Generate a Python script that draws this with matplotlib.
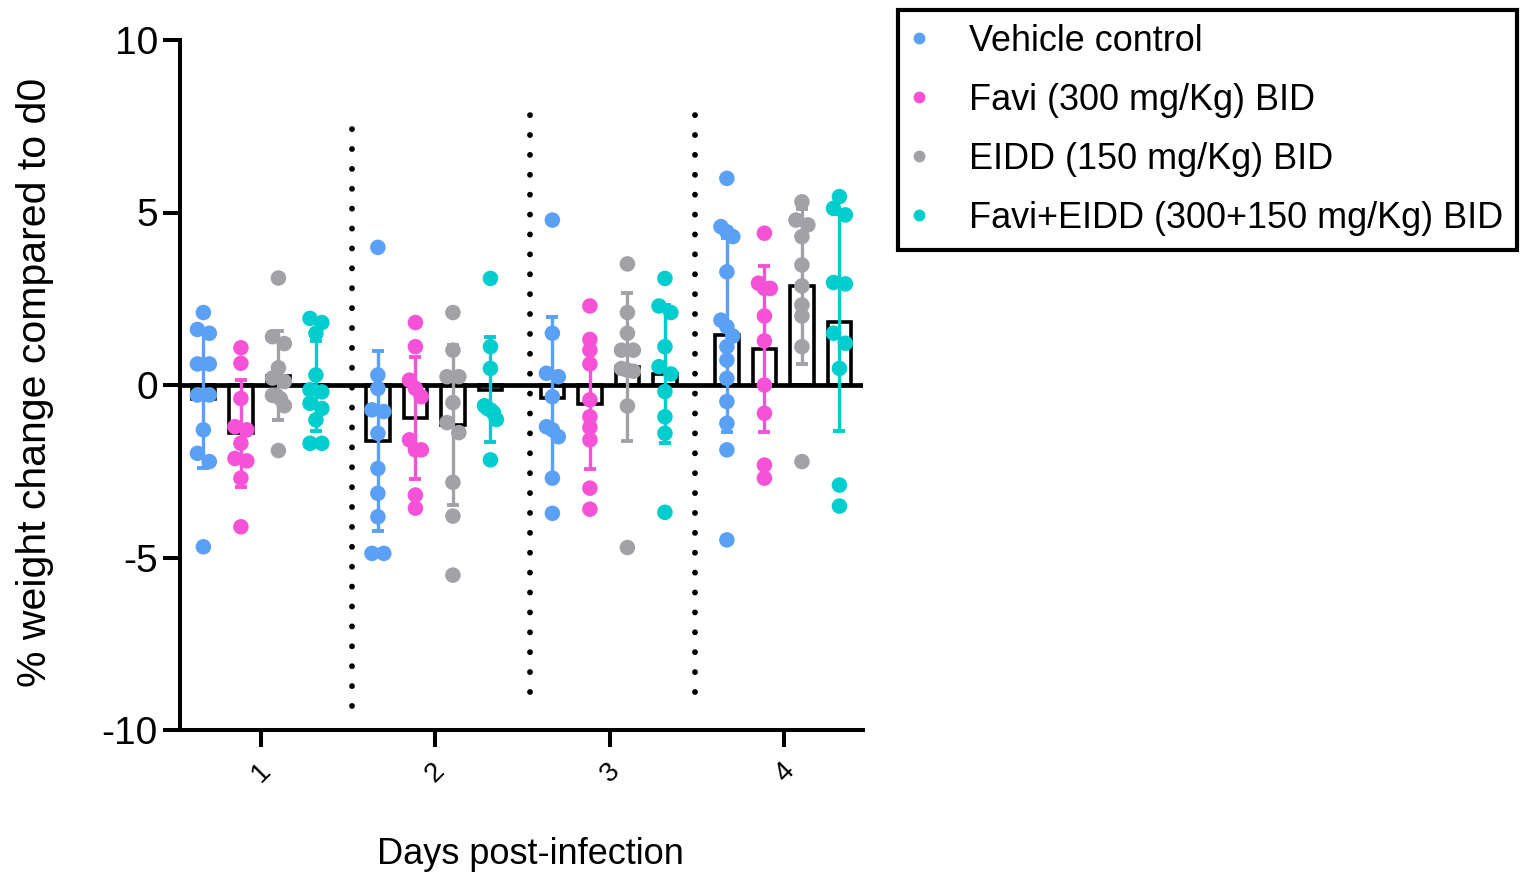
import numpy as np
import matplotlib.pyplot as plt
from matplotlib.lines import Line2D

plt.rcParams['font.family'] = ['Liberation Sans', 'DejaVu Sans']

# Data (% weight change vs d0, one value per animal)
days = [1, 2, 3, 4]
day_labels = ['1', '2', '3', '4']
groups = ['Vehicle control', 'Favi (300 mg/Kg) BID', 'EIDD (150 mg/Kg) BID',
          'Favi+EIDD (300+150 mg/Kg) BID']
colors = ['#5aa0f5', '#f552d8', '#a1a1a6', '#00cdcd']

vehicle = [
    [2.1, 1.61, 1.5, 0.61, 0.61, -0.29, -0.29, -1.3, -1.98, -2.22, -4.69],
    [3.99, 0.29, -0.1, -0.72, -0.77, -1.4, -2.42, -3.14, -3.82, -4.88, -4.88],
    [4.78, 1.5, 0.34, 0.24, -0.34, -1.21, -1.3, -1.5, -2.7, -3.72],
    [5.99, 4.59, 4.44, 4.3, 3.28, 1.88, 1.69, 1.42, 1.11, 0.72, 0.19, -0.48, -1.11, -1.88, -4.49],
]
favi = [
    [1.08, 0.63, -0.39, -1.21, -1.3, -1.69, -2.13, -2.2, -2.7, -4.11],
    [1.81, 1.11, 0.14, -0.1, -0.34, -1.59, -1.88, -1.88, -3.19, -3.57],
    [2.29, 1.32, 1.01, 0.61, -0.43, -0.92, -1.23, -1.59, -2.99, -3.6],
    [4.4, 2.95, 2.8, 2.8, 2.0, 1.28, 0.0, -0.82, -2.32, -2.7],
]
eidd = [
    [3.1, 1.4, 1.2, 0.5, 0.2, 0.1, -0.3, -0.3, -0.4, -0.6, -1.9],
    [2.1, 1.01, 0.24, 0.24, -0.51, -1.09, -1.38, -2.82, -3.8, -5.51],
    [3.51, 2.1, 1.5, 1.01, 1.01, 0.48, 0.43, 0.4, -0.61, -4.71],
    [5.31, 4.78, 4.64, 4.3, 3.48, 2.87, 2.32, 2.0, 1.11, -2.22],
]
combo = [
    [1.93, 1.81, 1.5, 0.29, -0.14, -0.2, -0.53, -0.68, -1.01, -1.69, -1.69],
    [3.09, 1.11, 0.48, -0.6, -0.68, -0.72, -0.8, -1.0, -2.17],
    [3.09, 2.29, 2.1, 1.11, 0.53, 0.32, -0.19, -0.92, -1.4, -3.69],
    [5.46, 5.12, 4.93, 2.97, 2.93, 1.5, 1.21, 0.48, -2.9, -3.51],
]
all_groups = [vehicle, favi, eidd, combo]

# dotted separators between days
divider_x = [1.52, 2.54, 3.49]
divider_top = [7.5, 7.9, 7.9]
divider_bottom = [-9.3, -8.9, -8.9]

offsets = [-0.33, -0.115, 0.10, 0.315]
bar_w = 0.135


def swarm(vals, d=0.034, gap=0.3):
    # spread points that sit at nearly the same height
    vals = np.asarray(vals, dtype=float)
    order = np.argsort(-vals)
    xoff = np.zeros(len(vals))
    cluster = [order[0]]
    for i in order[1:]:
        if vals[cluster[-1]] - vals[i] < gap:
            cluster.append(i)
        else:
            if len(cluster) > 1:
                xoff[cluster] = np.linspace(-d, d, len(cluster))
            cluster = [i]
    if len(cluster) > 1:
        xoff[cluster] = np.linspace(-d, d, len(cluster))
    return xoff


fig = plt.figure(figsize=(15.21, 8.77), dpi=100)
ax = fig.add_axes([180 / 1521, 1 - 730 / 877, 683 / 1521, 690 / 877])

for g, data in enumerate(all_groups):
    c = colors[g]
    for k, day in enumerate(days):
        vals = np.array(data[k])
        x = day + offsets[g]
        m = vals.mean()
        sd = vals.std(ddof=1)
        ax.bar(x, m, width=bar_w, facecolor='white', edgecolor='black',
               linewidth=2.6, zorder=2)
        ax.scatter(x + swarm(vals), vals, s=125, color=c, edgecolors='none', zorder=4)
        ax.errorbar(x, m, yerr=sd, fmt='none', ecolor=c, elinewidth=2.4,
                    capsize=4.5, capthick=2.8, zorder=5)

ax.axhline(0, color='black', lw=3.4, zorder=3)

for xd, yt, yb in zip(divider_x, divider_top, divider_bottom):
    ax.plot([xd, xd], [yb, yt], color='black', lw=4.2,
            linestyle=(0, (0.01, 3.4)), dash_capstyle='round', zorder=1)

ax.set_xlim(0.536, 4.45)
ax.set_ylim(-10, 10)
ax.set_yticks([-10, -5, 0, 5, 10])
ax.set_yticklabels(['-10', '-5', '0', '5', '10'], fontsize=28)
ax.set_xticks(days)
ax.set_xticklabels(day_labels, rotation=45, fontsize=20, ha='center')

for side in ['top', 'right']:
    ax.spines[side].set_visible(False)
for side in ['left', 'bottom']:
    ax.spines[side].set_linewidth(2.9)
ax.tick_params(axis='both', length=12, width=2.9, direction='out')
ax.tick_params(axis='y', pad=4)
ax.tick_params(axis='x', pad=8)

fig.text(530 / 1521, 1 - 854 / 877, 'Days post-infection', fontsize=26,
         ha='center', va='center')
fig.text(35 / 1521, 1 - 382 / 877, '% weight change compared to d0', fontsize=29.5,
         rotation=90, ha='center', va='center')

handles = [Line2D([], [], marker='o', ls='', color=c, markersize=7.5) for c in colors]
leg = fig.legend(handles, groups, loc='upper left',
                 bbox_to_anchor=(898 / 1521, 1 - 10 / 877), fontsize=25.9,
                 frameon=True, fancybox=False, framealpha=1, edgecolor='black',
                 handlelength=0.4, handletextpad=1.2, labelspacing=0.67,
                 borderpad=0.38, borderaxespad=0)
leg.get_frame().set_linewidth(3)

fig.savefig('out.png', dpi=100)
